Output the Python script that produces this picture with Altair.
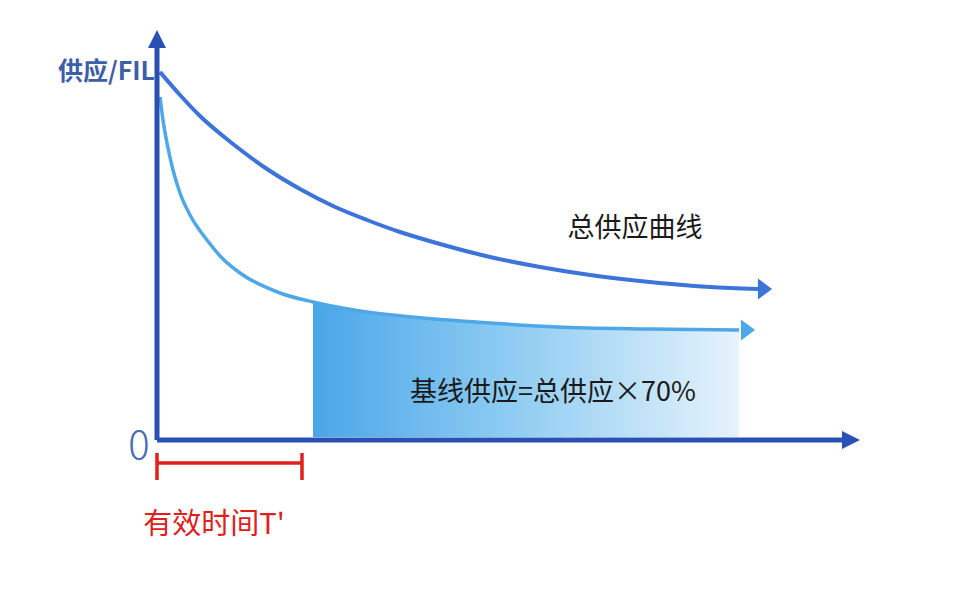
import altair as alt
import pandas as pd

# Total supply curve (x = time, y = supply), origin at the axis corner
total_x = [3, 23, 43, 76, 110, 143, 176, 210, 243, 283, 333, 383, 433, 483, 553, 601]
total_y = [368, 345, 324, 296, 271, 251, 234, 220, 208, 196, 183, 173, 165, 159, 153, 151]

# Baseline supply curve
base_x = [3, 6, 10, 16, 23, 33, 50, 65, 83, 123, 156, 203, 266, 333, 400, 493, 582]
base_y = [343, 320, 297, 270, 247, 225, 200, 182, 167, 147, 138, 129, 122, 117, 113, 111, 110]

# Shaded baseline region limits
shade_start = 155
shade_end = 582

# Axis extents (arrow-head centres)
x_axis_end = 694
y_axis_end = 401

# Effective time bracket
t_eff = 145

XD = [-149, 795]
YD = [-167, 432]

xs = alt.Scale(domain=XD, nice=False, zero=False)
ys = alt.Scale(domain=YD, nice=False, zero=False)

def X(f="x"):
    return alt.X(f"{f}:Q", scale=xs, axis=None)

def Y(f="y"):
    return alt.Y(f"{f}:Q", scale=ys, axis=None)

axis_color = "#2a50b4"
total_color = "#3c74da"
base_color = "#4ea8e8"
red = "#e0201c"

total_df = pd.DataFrame({"x": total_x, "y": total_y})
base_df = pd.DataFrame({"x": base_x, "y": base_y})
shade_df = base_df[(base_df.x >= shade_start) & (base_df.x <= shade_end)].copy()
shade_df["y0"] = 3

shade = alt.Chart(shade_df).mark_area(
    interpolate="monotone",
    color=alt.Gradient(
        gradient="linear",
        stops=[
            alt.GradientStop(color="#4aa6e8", offset=0),
            alt.GradientStop(color="#8ccbf2", offset=0.45),
            alt.GradientStop(color="#e6f3fc", offset=1),
        ],
        x1=0, x2=1, y1=0, y2=0,
    ),
).encode(x=X(), y=Y(), y2="y0:Q")

total_line = alt.Chart(total_df).mark_line(
    interpolate="monotone", color=total_color, strokeWidth=4
).encode(x=X(), y=Y())

base_line = alt.Chart(base_df).mark_line(
    interpolate="monotone", color=base_color, strokeWidth=3.5
).encode(x=X(), y=Y())

# Axes
axes_df = pd.DataFrame({
    "x": [0, 0], "y": [0, 0],
    "x2": [x_axis_end, 0], "y2": [0, y_axis_end],
})
axes = alt.Chart(axes_df).mark_rule(color=axis_color, strokeWidth=5).encode(
    x=X(), y=Y(), x2="x2:Q", y2="y2:Q"
)

axis_right = "M1,0L-1,-1L-1,1Z"
axis_up = "M0,-1L-1,1L1,1Z"
curve_right = "M1,0L-1,-1.5L-1,1.5Z"

head_x = alt.Chart(pd.DataFrame({"x": [x_axis_end], "y": [0]})).mark_point(
    shape=axis_right, filled=True, color=axis_color, size=324, opacity=1
).encode(x=X(), y=Y())
head_y = alt.Chart(pd.DataFrame({"x": [0], "y": [y_axis_end]})).mark_point(
    shape=axis_up, filled=True, color=axis_color, size=324, opacity=1
).encode(x=X(), y=Y())
head_total = alt.Chart(pd.DataFrame({"x": [total_x[-1] + 7], "y": [total_y[-1]]})).mark_point(
    shape=curve_right, filled=True, color=total_color, size=200, opacity=1
).encode(x=X(), y=Y())
head_base = alt.Chart(pd.DataFrame({"x": [base_x[-1] + 9], "y": [base_y[-1]]})).mark_point(
    shape=curve_right, filled=True, color=base_color, size=200, opacity=1
).encode(x=X(), y=Y())

# Red bracket
br_h = alt.Chart(pd.DataFrame({"x": [0], "x2": [t_eff], "y": [-23]})).mark_rule(
    color=red, strokeWidth=3.5
).encode(x=X(), x2="x2:Q", y=Y())
br_v = alt.Chart(pd.DataFrame({"x": [0, t_eff], "y": [-13, -13], "y2": [-40, -40]})).mark_rule(
    color=red, strokeWidth=3.5
).encode(x=X(), y=Y(), y2="y2:Q")

font = "Noto Sans CJK SC"

def label(text, x, y, size, color, align="center", weight="normal"):
    return alt.Chart(pd.DataFrame({"x": [x], "y": [y], "t": [text]})).mark_text(
        font=font, fontSize=size, color=color, align=align, baseline="middle",
        fontWeight=weight
    ).encode(x=X(), y=Y(), text="t:N")

texts = [
    label("供应/FIL", -2, 368, 25, "#3d5ea8", align="right", weight="bold"),
    label("0", -18, -7, 40, "#4a6cb4", weight=300),
    label("总供应曲线", 478, 211, 27, "#1a1a1a"),
    label("基线供应=总供应×70%", 396, 47, 27, "#1a1a1a"),
    label("有效时间T'", 57, -85, 29, red),
]

chart = alt.layer(
    shade, total_line, base_line, axes, head_x, head_y, head_total, head_base,
    br_h, br_v, *texts
).properties(
    width=944, height=599,
    autosize=alt.AutoSizeParams(type="none"), padding=0,
).configure(background="white").configure_view(stroke=None)

chart.save("out.html", embed_options={"renderer": "svg", "actions": False})
